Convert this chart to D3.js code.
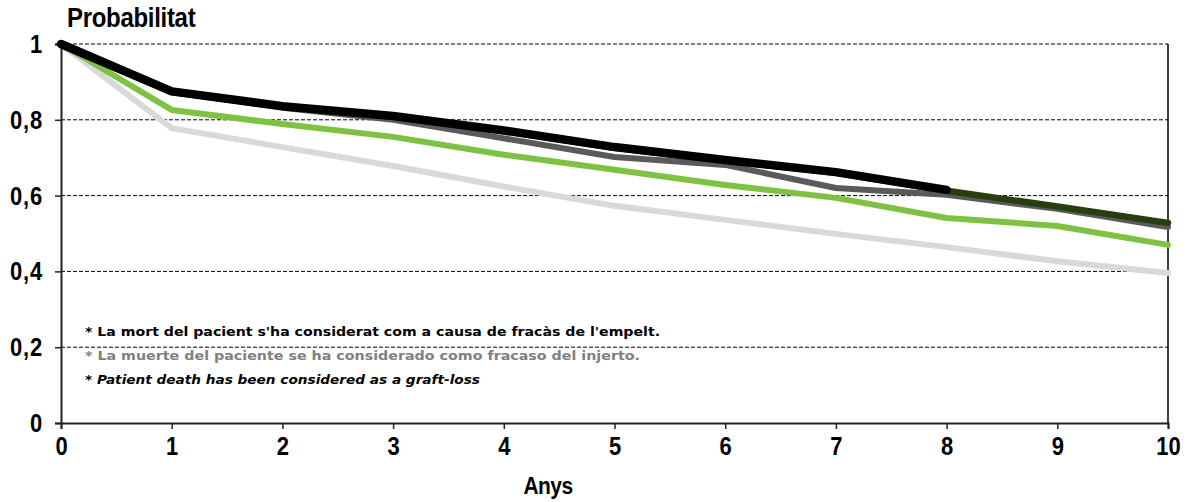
<!DOCTYPE html>
<html><head><meta charset="utf-8">
<script src="https://cdn.jsdelivr.net/npm/d3@7"></script>
<style>body{margin:0;background:#fff}svg{display:block}</style>
</head><body>
<script>
const years = [0,1,2,3,4,5,6,7,8,9,10];
const yTicks = [0,0.2,0.4,0.6,0.8,1];
const lightGrey = [1,0.778,0.728,0.678,0.624,0.573,0.536,0.499,0.464,0.427,0.396];
const green = [1,0.826,0.789,0.755,0.708,0.668,0.628,0.594,0.541,0.52,0.47];
const darkGrey = [1,0.875,0.832,0.8,0.751,0.702,0.681,0.62,0.602,0.565,0.517];
const darkGreen = [1,0.873,0.835,0.808,0.77,0.726,0.692,0.66,0.613,0.571,0.528];
const black = [1,0.875,0.836,0.81,0.772,0.728,0.694,0.662,0.615];
const notes = [
 "* La mort del pacient s'ha considerat com a causa de fracàs de l'empelt.",
 "* La muerte del paciente se ha considerado como fracaso del injerto.",
 "* Patient death has been considered as a graft-loss"
];

const W=1191,H=502;
const svg=d3.select("body").append("svg").attr("width",W).attr("height",H);
const x=d3.scaleLinear().domain([0,10]).range([61,1168]);
const y=d3.scaleLinear().domain([0,1]).range([423,44]);
const font="'Liberation Sans', Arial, sans-serif";
const SY=1.2; // vertical stretch of the labels, as in the reference

// gridlines
svg.append("g").selectAll("line").data(yTicks.filter(d=>d>0)).join("line")
 .attr("x1",x(0)).attr("x2",x(10)).attr("y1",d=>y(d)).attr("y2",d=>y(d))
 .attr("stroke","#000").attr("stroke-width",1).attr("stroke-dasharray","4,2");
// right border
svg.append("line").attr("x1",x(10)).attr("x2",x(10)).attr("y1",y(1)).attr("y2",y(0))
 .attr("stroke","#000").attr("stroke-width",1.5);

// axes
const xa=svg.append("g").attr("transform",`translate(0,${y(0)})`)
 .call(d3.axisBottom(x).tickValues(years).tickSize(6).tickPadding(7).tickFormat(d3.format("d")));
const ya=svg.append("g").attr("transform",`translate(${x(0)},0)`)
 .call(d3.axisLeft(y).tickValues(yTicks).tickSize(6).tickPadding(12).tickFormat(d=>d===0||d===1?String(d):d3.format(".1f")(d).replace(".",",")));
[xa,ya].forEach(a=>{
 a.select(".domain").attr("stroke","#222").attr("stroke-width",2);
 a.selectAll(".tick line").attr("stroke","#222").attr("stroke-width",1.5);
 a.selectAll("text").attr("font-family",font).attr("font-size",22).attr("font-weight","bold").attr("fill","#000");
});
xa.selectAll(".tick text").attr("dy",null).attr("y",32/SY).attr("transform",`scale(1,${SY})`);
ya.selectAll(".tick text").attr("dy",null).attr("y",8.5/SY).attr("transform",`scale(1,${SY})`).attr("letter-spacing","0.8");

// series
const line=d3.line().x((d,i)=>x(years[i])).y(d=>y(d));
const series=[
 {v:lightGrey,c:"#d9d9d9",w:6},
 {v:green,c:"#7dc242",w:6},
 {v:darkGrey,c:"#5a5a5a",w:6},
 {v:darkGreen,c:"#263f0f",w:6.5},
 {v:black,c:"#000000",w:8.5}
];
svg.append("g").selectAll("path").data(series).join("path")
 .attr("d",d=>line(d.v)).attr("fill","none").attr("stroke",d=>d.c).attr("stroke-width",d=>d.w)
 .attr("stroke-linejoin","round").attr("stroke-linecap","round");

// titles
svg.append("text").attr("transform",`translate(67,27) scale(1,1.12)`).text("Probabilitat")
 .attr("font-family",font).attr("font-size",24).attr("font-weight","bold").attr("letter-spacing","-0.3");
svg.append("text").attr("transform",`translate(548,494) scale(1,1.12)`).attr("text-anchor","middle").text("Anys")
 .attr("font-family",font).attr("font-size",21).attr("font-weight","bold").attr("letter-spacing","-0.6");

// notes
const noteStyle=[
 {y:336,c:"#000",it:"normal",len:575},
 {y:360,c:"#808080",it:"normal",len:555},
 {y:384,c:"#000",it:"italic",len:395}
];
svg.append("g").selectAll("text").data(notes).join("text")
 .attr("x",85).attr("y",(d,i)=>noteStyle[i].y).text(d=>d)
 .attr("font-family","'DejaVu Sans Condensed','DejaVu Sans',sans-serif").attr("font-size",13).attr("font-weight","bold")
 .attr("font-style",(d,i)=>noteStyle[i].it).attr("fill",(d,i)=>noteStyle[i].c)
 .attr("textLength",(d,i)=>noteStyle[i].len).attr("lengthAdjust","spacingAndGlyphs");
</script>
</body></html>
